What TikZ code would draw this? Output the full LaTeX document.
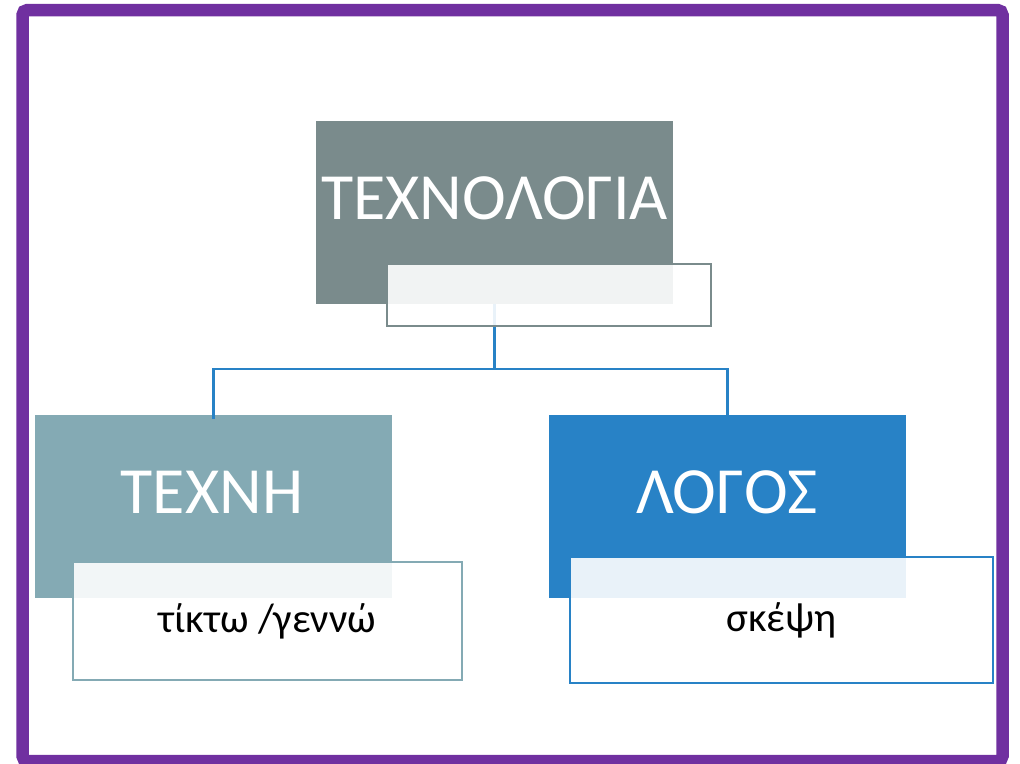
\documentclass[tikz,border=0pt]{standalone}
\usepackage{fontspec}
\setmainfont{Carlito}
\usetikzlibrary{positioning}

\definecolor{framepurple}{HTML}{7030A0}
\definecolor{slategray}{HTML}{7A8B8C}
\definecolor{tealgray}{HTML}{84AAB4}
\definecolor{officeblue}{HTML}{2882C6}

\begin{document}
\begin{tikzpicture}[x=1pt,y=-1pt,
  box/.style={draw=none,inner sep=0pt,minimum width=357pt,minimum height=183pt},
  textbox/.style={fill=white,fill opacity=0.9,text opacity=1,line width=2pt,inner sep=0pt},
  title/.style={text=white,inner sep=0pt,font=\fontsize{66}{70}\selectfont},
  small/.style={font=\fontsize{41}{46}\selectfont},
  conn/.style={draw=officeblue,line width=2.2pt}]

\useasboundingbox (0,0) rectangle (1020,763);
\clip (0,0) rectangle (1020,763);

%\draw[color=black!30,step=50](0,0)grid(1020,763);

% main boxes
\node[box,fill=slategray] (techno) at (494.5,212.5) {};
\node[box,fill=tealgray] (techne) at (213.5,506.5) {};
\node[box,fill=officeblue] (logos) at (727.5,506.5) {};

\node[title] (technoT) at (494.5,198) {ΤΕΧΝΟΛΟΓΙΑ};
\node[title] (techneT) at (212,492) {ΤΕΧΝΗ};
\node[title] (logosT) at (727,492) {ΛΟΓΟΣ};

% connectors
\coordinate (fork) at (494.5,369);
\draw[conn] (techno.south) -- (fork) -| ([yshift=-4pt]techne.north);
\draw[conn] (fork) -| ([yshift=-4pt]logos.north);

% overlapping text boxes
\node[textbox,draw=slategray,minimum width=324pt,minimum height=62pt] (technoB) at (549,295) {};
\node[textbox,draw=tealgray,minimum width=389pt,minimum height=118pt,small] (techneB) at (267.5,621) {τίκτω /γεννώ};
\node[textbox,draw=officeblue,minimum width=423pt,minimum height=126pt,small] (logosB) at (781.5,620) {σκέψη};

% frame
\draw[framepurple,line width=12.5pt,rounded corners=5pt] (22.5,10) rectangle (1002.5,761);

\end{tikzpicture}
\end{document}
